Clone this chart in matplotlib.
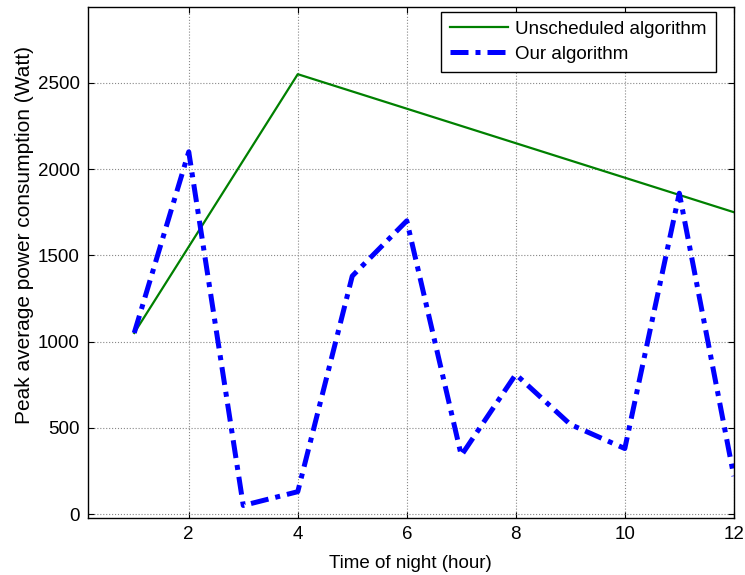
import matplotlib
matplotlib.use("Agg")
import matplotlib.pyplot as plt

# hours of the night
hours = [1, 2, 3, 4, 5, 6, 7, 8, 9, 10, 11, 12]
# peak average power (Watt)
unscheduled = [1050, 1550, 2050, 2550, 2450, 2350, 2250, 2150, 2050, 1950, 1850, 1750]
ours = [1050, 2100, 50, 130, 1380, 1700, 340, 810, 520, 380, 1860, 220]

xticks = [2, 4, 6, 8, 10, 12]
yticks = [0, 500, 1000, 1500, 2000, 2500]

plt.rcParams['font.family'] = ['Liberation Sans', 'DejaVu Sans']
plt.rcParams['font.size'] = 13.5

fig = plt.figure(figsize=(7.45, 5.75), dpi=100)
ax = fig.add_axes([0.118, 0.099, 0.867, 0.889])

ax.plot(hours, unscheduled, color=(0, 0.5, 0), linewidth=1.6, label='Unscheduled algorithm')
ax.plot(hours, ours, color='blue', linewidth=3.6, dashes=(3.6, 1.4, 1.0, 1.4),
        dash_capstyle='butt', label='Our algorithm')

ax.set_xlim(0.15, 12)
ax.set_ylim(-23, 2940)
ax.set_xticks(xticks)
ax.set_yticks(yticks)
ax.grid(True, color='#888888', linestyle=':', linewidth=0.8)
ax.tick_params(direction='in', top=True, right=True, length=4, width=0.8, pad=6)
for s in ax.spines.values():
    s.set_linewidth(1.0)

ax.set_xlabel('Time of night (hour)', labelpad=8)
ax.set_ylabel('Peak average power consumption (Watt)', fontsize=15, labelpad=4)
ax.yaxis.set_label_coords(-0.084, 0.554)

leg = ax.legend(loc='upper right', bbox_to_anchor=(0.972, 0.991), fancybox=False,
                framealpha=1, edgecolor='black', handlelength=3.1, handletextpad=0.35,
                borderpad=0.5, labelspacing=0.4, borderaxespad=0)
leg.get_frame().set_linewidth(1.0)

fig.savefig('out.png', dpi=100)
